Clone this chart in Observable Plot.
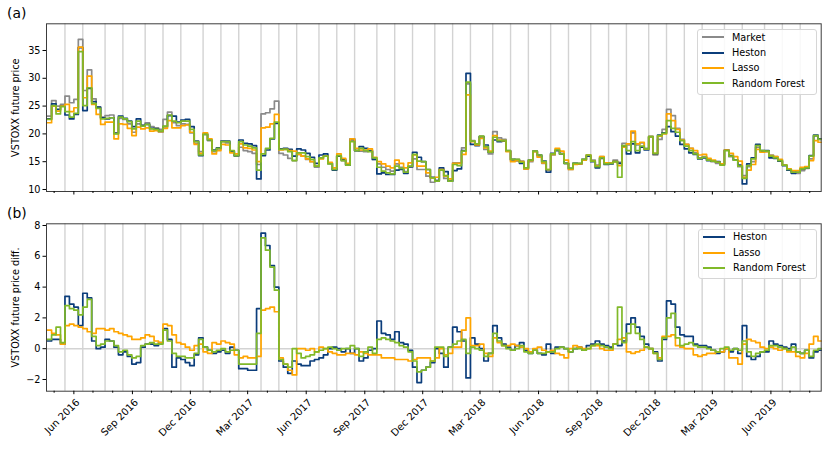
<!DOCTYPE html>
<html><head><meta charset="utf-8">
<script src="https://cdn.jsdelivr.net/npm/d3@7"></script>
<script src="https://cdn.jsdelivr.net/npm/@observablehq/plot@0.6"></script>
<style>
body{margin:0;background:#fff;font-family:"DejaVu Sans",sans-serif;}
#wrap{position:relative;width:830px;height:449px;overflow:hidden;background:#fff}
#wrap svg{display:block}
.plab{position:absolute;font-size:13.9px;line-height:1;color:#000;font-family:"DejaVu Sans",sans-serif}
.legend{position:absolute;border:1px solid #d6d6d6;border-radius:3px;background:rgba(255,255,255,0.85);box-sizing:border-box}
.item{position:absolute;font-size:9.7px;line-height:1;color:#000;white-space:nowrap;font-family:"DejaVu Sans",sans-serif}
.sw{position:absolute;height:2px}
</style></head>
<body><div id="wrap"></div>
<script>
// ---- data (weekly samples, Wednesdays starting 2016-04-20) ----
const startDate = "2016-04-20";
const market = [
23.2,26.0,25.0,25.3,26.8,25.6,26.2,37.0,27.8,31.5,
26.3,24.8,23.0,23.3,23.4,20.2,22.8,22.6,21.8,20.3,
21.8,21.6,22.0,21.3,21.1,20.8,22.6,23.9,22.0,21.5,
21.8,21.7,20.2,18.3,16.8,20.0,18.8,16.8,17.3,18.6,
18.4,16.9,16.0,17.6,17.0,16.8,16.5,14.5,23.6,23.8,
24.5,25.9,16.5,16.2,15.6,15.2,16.3,16.0,15.4,15.0,
14.0,15.6,16.0,14.7,13.6,16.0,15.2,14.4,18.8,17.0,
16.9,16.8,16.9,15.4,14.6,14.0,13.6,13.3,14.6,14.0,
13.2,14.0,15.5,13.6,13.6,12.4,11.3,11.6,13.6,12.0,
11.6,14.8,14.8,17.5,29.0,18.8,18.2,19.5,17.2,16.4,
20.4,19.3,19.0,17.0,15.3,15.4,15.1,13.7,15.0,16.8,
15.9,14.7,13.4,16.2,17.1,16.5,14.7,13.6,14.7,14.7,
15.3,16.2,15.3,14.4,15.9,14.7,14.7,15.3,14.9,18.3,
18.0,20.2,18.0,18.4,17.4,19.5,16.2,19.0,20.8,24.4,
23.3,21.0,19.0,18.1,17.4,16.6,15.7,15.9,15.3,15.0,
14.7,14.4,17.1,15.9,15.3,14.1,12.5,14.1,15.0,17.6,
16.8,16.8,16.2,15.9,15.3,14.4,13.5,13.2,12.9,13.4,
13.8,15.5,19.6,19.0];
// difference market - model
const hestonDiff = [
0.5,0.6,0.6,0.3,3.4,2.9,2.7,1.5,3.6,3.3,
0.5,0.0,0.1,0.6,0.5,0.1,-0.4,-0.2,-0.5,-1.0,
-0.9,0.1,0.3,0.3,0.2,0.4,1.3,0.6,-1.2,-0.6,
-0.7,-0.9,-1.1,-0.4,0.7,0.1,-0.1,-0.3,-0.2,-0.1,
-0.3,0.1,-0.1,-1.3,-1.3,-1.4,-1.4,2.6,7.5,6.7,
5.4,4.0,-0.8,-1.2,-1.6,-0.8,-1.0,-1.1,-1.1,-0.8,
-0.7,-0.6,-0.4,0.0,0.1,0.0,-0.2,0.0,-0.3,0.0,
-0.8,-0.6,-0.1,0.0,1.8,1.0,0.9,0.6,1.1,0.4,
0.3,-0.1,-1.2,-2.2,-1.4,-1.2,-0.9,0.0,-0.3,-1.2,
0.1,1.4,1.1,0.5,-1.9,0.7,0.3,0.0,-0.8,-0.3,
1.5,0.7,0.3,0.1,-0.1,0.2,0.4,-0.1,-0.3,-0.1,
-0.3,-0.4,0.3,-0.3,0.1,0.1,0.0,-0.2,0.0,0.1,
-0.1,0.2,0.3,0.5,0.3,0.2,0.1,0.3,0.2,0.5,
1.6,2.0,1.4,0.8,0.3,0.0,-0.2,-0.8,0.6,3.1,
2.9,1.4,0.9,0.8,0.8,0.3,0.2,0.2,0.1,-0.1,
-0.3,-0.2,0.0,-0.2,0.0,-0.3,1.5,-0.5,-0.7,-0.5,
-0.2,-0.2,0.5,0.3,0.2,0.1,0.0,0.3,-0.2,-0.3,
-0.1,-0.6,-0.2,-0.1];
const lassoDiff = [
1.2,1.0,0.9,0.3,1.5,1.6,1.5,1.4,1.3,1.1,
1.0,1.3,1.3,1.2,1.3,1.1,1.0,0.9,0.8,0.6,
0.6,0.7,0.9,0.8,0.5,0.4,1.6,1.5,0.9,0.4,
0.3,0.1,-0.1,0.2,0.3,-0.2,-0.3,0.4,0.3,0.5,
0.4,0.3,-0.4,-0.6,-0.5,-0.6,-0.6,-0.5,2.5,2.6,
2.7,2.4,-0.6,-1.0,-1.4,-1.7,0.0,0.0,-0.1,0.0,
-0.2,0.1,0.0,-0.2,-0.3,-0.4,-0.4,-0.3,-0.3,-0.4,
-0.2,-0.3,-0.4,-0.4,-0.4,-0.6,-0.6,-0.6,-0.7,-0.7,
-0.7,-0.8,-0.7,-0.6,-0.6,-0.6,-0.8,-0.6,0.0,-0.4,
-0.3,0.1,0.1,1.2,2.0,0.2,0.2,0.3,-0.3,-0.5,
0.7,0.4,0.2,0.2,0.3,0.2,0.1,0.0,-0.2,0.0,
0.1,-0.1,-0.2,-0.1,-0.3,-0.4,-0.6,0.0,0.2,0.1,
0.0,0.0,0.2,0.2,0.0,-0.1,-0.1,0.3,0.6,0.7,
-0.2,-0.3,-0.2,-0.1,0.1,0.0,-0.3,-0.6,0.8,0.8,
0.9,0.2,0.1,0.0,0.0,-0.4,-0.5,-0.4,-0.3,-0.3,
-0.2,-0.2,0.0,-0.6,-0.6,-1.0,0.3,0.6,0.5,0.4,
0.1,0.0,0.1,0.0,-0.1,0.0,-0.2,-0.2,-0.5,-0.6,
-0.3,0.3,0.8,0.5];
const rfDiff = [
0.6,0.9,1.4,0.4,2.8,2.6,2.5,2.2,2.7,3.2,
0.8,0.2,0.3,0.5,0.5,0.2,-0.2,-0.1,-0.4,-0.6,
-0.5,0.2,0.3,0.4,0.3,0.3,1.2,0.5,-0.3,-0.5,
-0.5,-0.6,-0.6,-0.3,0.6,0.1,-0.1,-0.2,-0.1,0.0,
-0.2,-0.1,-0.1,-1.0,-1.0,-1.0,-1.0,1.0,7.2,6.4,
5.3,3.8,-0.7,-1.0,-1.2,0.0,-0.3,-0.6,-0.5,-0.4,
-0.2,-0.1,0.0,0.1,0.0,-0.1,0.0,0.0,0.2,0.0,
-0.5,-0.2,0.1,-0.3,0.6,0.7,0.6,0.5,0.4,0.2,
0.1,-0.2,-0.8,-1.5,-1.4,-1.2,-0.8,0.1,0.1,-0.5,
0.1,0.3,0.5,0.6,-0.3,0.1,0.0,-0.1,-0.5,-0.3,
1.0,0.5,0.2,0.0,-0.1,0.0,0.2,-0.2,-0.3,-0.1,
-0.3,-0.3,-0.2,-0.2,0.0,0.1,0.0,-0.2,0.0,0.0,
-0.1,0.0,0.2,0.3,0.2,0.1,0.0,0.3,2.7,0.4,
1.0,1.6,1.0,0.6,0.1,0.0,-0.3,-0.7,0.7,2.0,
2.3,0.7,0.2,0.3,0.4,0.2,0.1,0.1,0.0,-0.1,
-0.2,0.0,0.1,-0.1,0.0,-0.1,0.5,-0.2,-0.5,-0.3,
-0.2,-0.1,0.2,0.2,0.1,0.0,-0.1,0.1,-0.2,-0.3,
-0.1,-0.5,-0.1,0.0];
// futures expiry dates (vertical grey lines)
const expiries = ["2016-05-18","2016-06-15","2016-07-20","2016-08-17","2016-09-21","2016-10-19","2016-11-16","2016-12-21",
"2017-01-18","2017-02-15","2017-03-22","2017-04-19","2017-05-17","2017-06-21","2017-07-19","2017-08-16","2017-09-20","2017-10-18","2017-11-15","2017-12-20",
"2018-01-17","2018-02-14","2018-03-21","2018-04-18","2018-05-16","2018-06-20","2018-07-18","2018-08-22","2018-09-19","2018-10-17","2018-11-21","2018-12-19",
"2019-01-16","2019-02-13","2019-03-20","2019-04-17","2019-05-22","2019-06-19","2019-07-17"];
const majorTickDates = ["2016-06-01","2016-09-01","2016-12-01","2017-03-01","2017-06-01","2017-09-01","2017-12-01","2018-03-01","2018-06-01","2018-09-01","2018-12-01","2019-03-01","2019-06-01"];
const majorTickLabels = ["Jun 2016","Sep 2016","Dec 2016","Mar 2017","Jun 2017","Sep 2017","Dec 2017","Mar 2018","Jun 2018","Sep 2018","Dec 2018","Mar 2019","Jun 2019"];
const yTicksA = [10,15,20,25,30,35];
const yTicksB = [-2,0,2,4,6,8];
const seriesA = ["Market","Heston","Lasso","Random Forest"];
const seriesB = ["Heston","Lasso","Random Forest"];
const colors = {"Market":"#8a8a8a","Heston":"#0b3d7b","Lasso":"#ffa500","Random Forest":"#80b929"};

// ---- build ----
const parse = s => new Date(s + "T00:00:00Z");
const xDomain = [parse("2016-04-19"), parse("2019-08-19")];
const t0 = parse(startDate);
const r2 = v => Math.round(v * 100) / 100;
const rows = market.map((m, i) => ({
  date: d3.utcDay.offset(t0, 7 * i),
  "Market": m,
  "Heston": r2(m - hestonDiff[i]),
  "Lasso": r2(m - lassoDiff[i]),
  "Random Forest": r2(m - rfDiff[i]),
  dHeston: hestonDiff[i], dLasso: lassoDiff[i], dRF: rfDiff[i]
}));
rows.push({...rows[rows.length - 1], date: xDomain[1]});

const majors = majorTickDates.map(parse);
const labelMap = new Map(majors.map((d, i) => [+d, majorTickLabels[i]]));
const minors = d3.utcMonth.range(parse("2016-05-01"), parse("2019-08-02")).filter(d => !labelMap.has(+d));
const exp = expiries.map(parse);

const style = {fontFamily: "DejaVu Sans, sans-serif", fontSize: "9.7px", background: "white", color: "#000", overflow: "visible"};
const lineOpts = (field, color) => ({x: "date", y: field, stroke: color, strokeWidth: 1.7, curve: "step-after"});

const plotA = Plot.plot({
  width: 830, height: 205,
  marginLeft: 46, marginRight: 9.3, marginTop: 23.3, marginBottom: 14,
  style,
  x: {type: "utc", domain: xDomain},
  y: {domain: [9.64, 39.8]},
  marks: [
    Plot.ruleX(exp, {stroke: "#d3d3d3", strokeWidth: 1.4}),
    ...seriesA.map(s => Plot.lineY(rows, lineOpts(s, colors[s]))),
    Plot.frame({stroke: "#3c3c3c", strokeWidth: 1}),
    Plot.axisX({ticks: majors, tickSize: 3.5, tickFormat: () => ""}),
    Plot.axisX({ticks: minors, tickSize: 2, tickFormat: () => ""}),
    Plot.axisY({ticks: yTicksA, tickSize: 3.5, tickPadding: 2.5, label: "VSTOXX future price", labelAnchor: "center", labelArrow: "none", labelOffset: 34})
  ]
});

const plotB = Plot.plot({
  width: 830, height: 244,
  marginLeft: 46, marginRight: 9.3, marginTop: 18.3, marginBottom: 58.3,
  style,
  x: {type: "utc", domain: xDomain},
  y: {domain: [-2.76, 8.11]},
  marks: [
    Plot.ruleX(exp, {stroke: "#d3d3d3", strokeWidth: 1.4}),
    Plot.ruleY([0], {stroke: "#d3d3d3", strokeWidth: 1.4}),
    Plot.lineY(rows, lineOpts("dHeston", colors["Heston"])),
    Plot.lineY(rows, lineOpts("dLasso", colors["Lasso"])),
    Plot.lineY(rows, lineOpts("dRF", colors["Random Forest"])),
    Plot.frame({stroke: "#3c3c3c", strokeWidth: 1}),
    Plot.axisX({ticks: majors, tickSize: 3.5, tickFormat: () => "", label: null}),
    Plot.axisX({ticks: majors, tickSize: 0, tickPadding: 6.5, tickRotate: -45, textAnchor: "end", dx: 4, dy: 3, fontSize: "10px", tickFormat: d => labelMap.get(+d), label: null}),
    Plot.axisX({ticks: minors, tickSize: 2, tickFormat: () => "", label: null}),
    Plot.axisY({ticks: yTicksB, tickSize: 3.5, tickPadding: 2.5, label: "VSTOXX future price diff.", labelAnchor: "center", labelArrow: "none", labelOffset: 34})
  ]
});

const wrap = document.getElementById("wrap");
wrap.appendChild(plotA);
wrap.appendChild(plotB);

function addLabel(txt, left, top) {
  const d = document.createElement("div");
  d.className = "plab"; d.textContent = txt;
  d.style.left = left + "px"; d.style.top = top + "px";
  wrap.appendChild(d);
}
addLabel("(a)", 7, 7.1);
addLabel("(b)", 7, 207.1);

function addLegend(names, left, top, width, height, rowTop, pitch) {
  const box = document.createElement("div");
  box.className = "legend";
  Object.assign(box.style, {left: left + "px", top: top + "px", width: width + "px", height: height + "px"});
  names.forEach((n, k) => {
    const cy = rowTop + pitch * k;
    const sw = document.createElement("div");
    sw.className = "sw";
    Object.assign(sw.style, {left: "4px", width: "22px", top: Math.round(cy - 2) + "px", background: colors[n]});
    box.appendChild(sw);
    const t = document.createElement("div");
    t.className = "item"; t.textContent = n;
    Object.assign(t.style, {left: "34px", top: (cy - 4.65 - 1) + "px"});
    box.appendChild(t);
  });
  wrap.appendChild(box);
}
addLegend(seriesA, 697, 29, 120, 66, 8.4, 15.35);
addLegend(seriesB, 698, 229, 119, 50, 8.1, 15.4);
</script></body></html>
